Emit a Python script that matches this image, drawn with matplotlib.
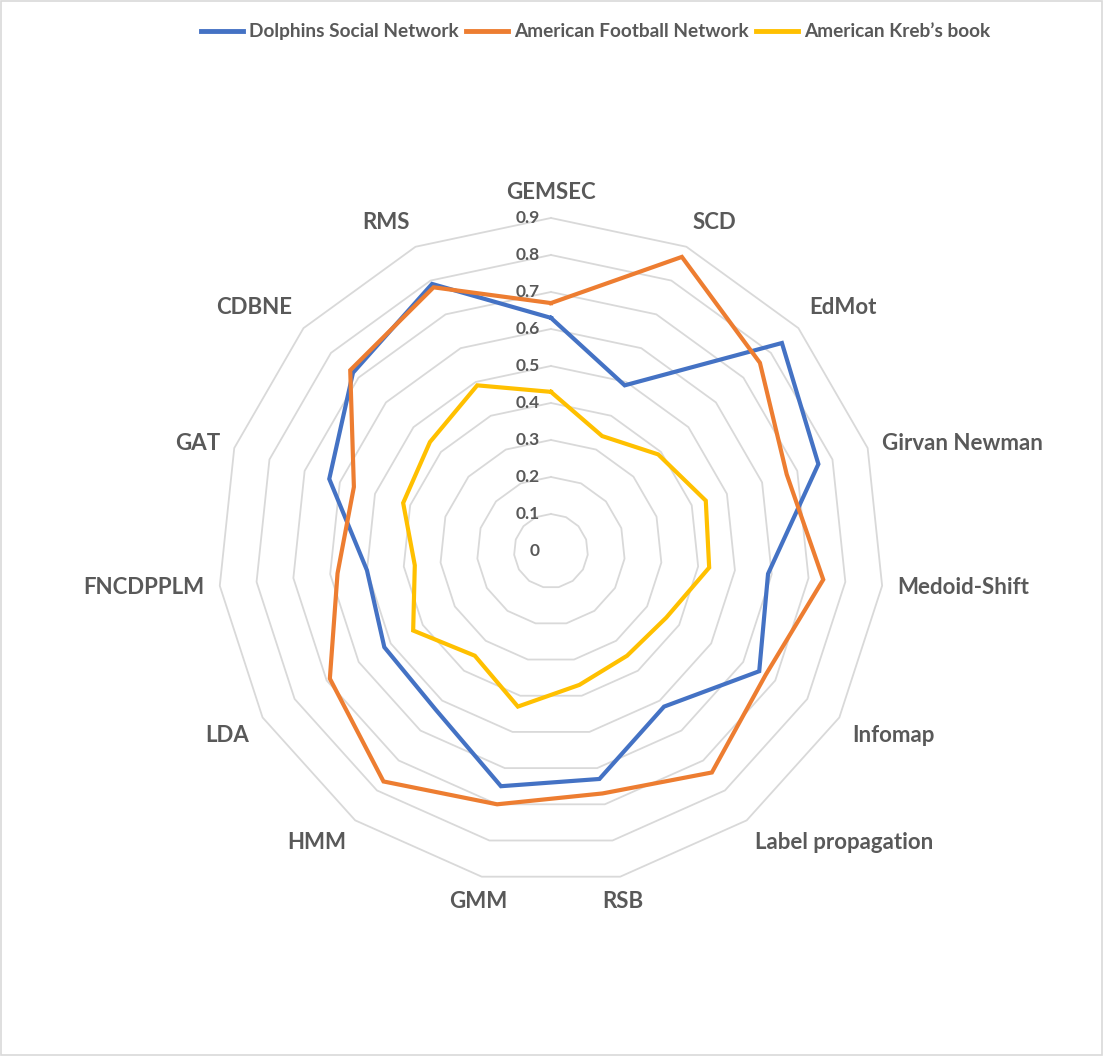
import numpy as np
import matplotlib
matplotlib.use("Agg")
import matplotlib.pyplot as plt
from matplotlib.patches import Rectangle

plt.rcParams['font.family'] = ['Lato', 'DejaVu Sans']

categories = ["GEMSEC", "SCD", "EdMot", "Girvan Newman", "Medoid-Shift", "Infomap",
              "Label propagation", "RSB", "GMM", "HMM", "LDA", "FNCDPPLM", "GAT",
              "CDBNE", "RMS"]
dolphins = [0.63, 0.49, 0.84, 0.76, 0.59, 0.65, 0.52, 0.63, 0.65, 0.53, 0.52, 0.50, 0.63, 0.72, 0.79]
football = [0.67, 0.87, 0.76, 0.67, 0.74, 0.67, 0.74, 0.67, 0.70, 0.77, 0.69, 0.58, 0.56, 0.73, 0.78]
kreb = [0.43, 0.34, 0.39, 0.44, 0.43, 0.36, 0.35, 0.37, 0.43, 0.35, 0.43, 0.37, 0.42, 0.44, 0.49]
series_names = ["Dolphins Social Network", "American Football Network", "American Kreb\u2019s book"]
series_colors = ["#4472C4", "#ED7D31", "#FFC000"]
levels = [0, 0.1, 0.2, 0.3, 0.4, 0.5, 0.6, 0.7, 0.8, 0.9]
tick_labels = ["0", "0.1", "0.2", "0.3", "0.4", "0.5", "0.6", "0.7", "0.8", "0.9"]

TXT = "#595959"
GRID = "#D9D9D9"

fig = plt.figure(figsize=(11.03, 10.56), dpi=100)
ax = fig.add_axes([0.1976, 0.1629, 0.6038, 0.6307], projection="polar")
ax.set_theta_zero_location("N")
ax.set_theta_direction(-1)
ax.set_ylim(0, 0.9)
ax.grid(False)
ax.spines["polar"].set_visible(False)
ax.set_xticks([])
ax.set_yticks([])
ax.patch.set_alpha(0)

n = len(categories)
theta = np.linspace(0, 2 * np.pi, n, endpoint=False)
theta_closed = np.append(theta, theta[0])

# polygon rings only, excel style (no spokes)
for lv in levels[1:]:
    ax.plot(theta_closed, [lv] * (n + 1), color=GRID, lw=1.3, zorder=1, clip_on=False)

for vals, name, col in zip([dolphins, football, kreb], series_names, series_colors):
    ax.plot(theta_closed, vals + vals[:1], color=col, lw=3, label=name, zorder=3,
            clip_on=False, solid_joinstyle="miter")

for lv, lab in zip(levels, tick_labels):
    ax.annotate(lab, xy=(0, lv), xytext=(-8, 0), textcoords="offset points",
                ha="right", va="center", fontsize=12.5, fontweight="bold", color=TXT, zorder=4)

# category labels, anchored like excel does it
for t, cat in zip(theta, categories):
    s, c = np.sin(t), np.cos(t)
    ha = "left" if s > 0.3 else ("right" if s < -0.3 else "center")
    va = "bottom" if c > 0.4 else ("top" if c < -0.3 else "center")
    ax.text(t, 0.9405, cat, ha=ha, va=va, fontsize=16, fontweight="bold", color=TXT)

handles, labels = ax.get_legend_handles_labels()
leg = fig.legend(handles, labels, loc="center", bbox_to_anchor=(0.540, 0.970), ncol=3,
                 frameon=False, handlelength=2.2, handletextpad=0.35, columnspacing=0.35,
                 prop={"size": 13.7, "weight": "bold"})
for txt in leg.get_texts():
    txt.set_color(TXT)
for line in leg.get_lines():
    line.set_linewidth(3.5)

fig.patches.append(Rectangle((0.001, 0.001), 0.998, 0.998, transform=fig.transFigure,
                             fill=False, edgecolor=GRID, lw=1.2))

fig.savefig("out.png", dpi=100)
